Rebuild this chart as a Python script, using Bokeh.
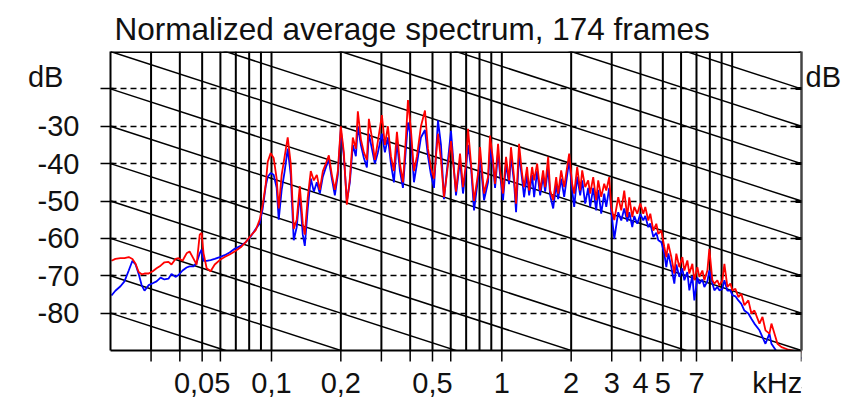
from bokeh.plotting import figure
from bokeh.models import ColumnDataSource, FixedTicker, LinearAxis, Range1d
from bokeh.core.properties import value
from bokeh.embed import file_html
from bokeh.resources import INLINE

TITLE = "Normalized average spectrum, 174 frames"

freq_khz = [
    0.0202, 0.0210, 0.0221, 0.0230, 0.0240, 0.0249, 0.0257, 0.0265, 0.0273, 0.0281,
    0.0293, 0.0305, 0.0317, 0.0330, 0.0343, 0.0357, 0.0368, 0.0383, 0.0395, 0.0411,
    0.0428, 0.0441, 0.0459, 0.0473, 0.0488, 0.0497, 0.0507, 0.0523, 0.0544, 0.0567,
    0.0596, 0.0626, 0.0658, 0.0692, 0.0735, 0.0773, 0.0812, 0.0854, 0.0889, 0.0916,
    0.0944, 0.0963, 0.0992,
    0.1022, 0.1053, 0.1075, 0.1107, 0.1141, 0.1176, 0.1212, 0.1249, 0.1287, 0.1327,
    0.1367, 0.1395, 0.1437, 0.1481, 0.1527, 0.1573, 0.1621, 0.1671, 0.1722, 0.1774,
    0.1828, 0.1884, 0.1941, 0.2000, 0.2061, 0.2124, 0.2189, 0.2255, 0.2324, 0.2371,
    0.2444, 0.2518, 0.2595, 0.2647, 0.2728, 0.2811, 0.2897, 0.3015, 0.3107, 0.3202,
    0.3300, 0.3400, 0.3504, 0.3611, 0.3721, 0.3834, 0.3912, 0.4031, 0.4154, 0.4281,
    0.4455, 0.4638, 0.4779, 0.4925, 0.5075, 0.5282, 0.5443,
    0.5609, 0.6016, 0.6325, 0.6584, 0.6784, 0.6991, 0.7133, 0.7350, 0.7574, 0.7884,
    0.8042, 0.8370, 0.8713, 0.8889, 0.9160, 0.9346, 0.9631, 0.9826, 1.012, 1.043,
    1.075, 1.096, 1.130, 1.153, 1.188, 1.224, 1.249, 1.287, 1.314, 1.354,
    1.381, 1.423, 1.467, 1.511, 1.542, 1.589, 1.621, 1.671, 1.722, 1.756,
    1.810, 1.865, 1.903, 1.961, 2.020, 2.061, 2.124, 2.189, 2.233, 2.301,
    2.371, 2.419, 2.493, 2.569, 2.621, 2.701, 2.783, 2.840, 2.926, 2.985, 3.077,
    3.202, 3.300, 3.400, 3.504, 3.575, 3.684, 3.758, 3.873, 3.991, 4.113,
    4.196, 4.324, 4.411, 4.546, 4.685, 4.779, 4.925, 5.075, 5.177, 5.282,
    5.443, 5.609, 5.722, 5.897, 6.077, 6.200, 6.389, 6.518, 6.716, 6.852,
    7.061, 7.204, 7.424, 7.574, 7.806, 7.962, 8.205, 8.370, 8.626, 8.800,
    9.069, 9.252, 9.534, 9.826, 10.02, 10.33, 10.64, 10.96, 11.30, 11.76,
    12.12, 12.49, 13.14, 13.54, 13.95, 14.52, 14.81, 15.42, 15.73, 16.37,
    17.56, 19.41, 20.0,
]

red_db = [
    -66.0, -65.5, -65.3, -65.3, -65.0, -65.5, -66.8, -69.0, -69.6, -69.4,
    -69.4, -68.8, -68.0, -67.3, -66.4, -66.3, -67.0, -65.5, -65.3, -66.0,
    -64.0, -63.5, -65.5, -67.0, -59.0, -58.5, -64.0, -68.0, -68.8, -67.0,
    -65.8, -65.0, -64.3, -63.5, -62.4, -61.0, -59.3, -57.8, -55.0, -51.0,
    -45.5, -39.5, -37.2,
    -38.5, -44.0, -52.0, -43.0, -38.0, -33.0, -40.0, -57.5, -55.0, -46.0,
    -56.0, -59.0, -49.0, -42.0, -44.5, -43.0, -47.0, -42.0, -40.0, -37.8,
    -43.0, -47.0, -42.0, -30.0, -37.0, -51.0, -44.0, -33.0, -36.0, -26.0,
    -33.5, -37.0, -39.0, -28.0, -33.0, -39.0, -34.0, -27.0, -35.0, -30.0,
    -38.0, -42.0, -31.5, -40.0, -45.0, -33.0, -23.0, -31.0, -42.0, -38.0,
    -30.0, -25.8, -36.0, -41.0, -44.0, -32.0, -39.0,
    -49.0, -34.0, -47.5, -37.3, -46.3, -40.0, -30.7, -40.0, -50.0, -42.7,
    -35.6, -48.0, -43.6, -32.5, -39.1, -45.4, -34.7, -41.8, -48.0, -38.2,
    -44.5, -35.6, -43.6, -50.7, -34.7, -42.7, -46.3, -40.9, -47.2, -40.9,
    -44.5, -40.0, -47.2, -41.8, -46.3, -38.2, -47.2, -49.8, -43.6, -48.0,
    -41.8, -46.3, -42.7, -37.3, -45.4, -48.0, -40.9, -47.2, -41.8, -46.3,
    -44.5, -48.0, -43.6, -49.8, -44.5, -48.9, -45.4, -47.2, -43.6, -51.6, -55.1,
    -49.0, -52.5, -47.2, -54.3, -49.0, -54.3, -51.6, -53.4, -50.7, -53.4,
    -51.6, -55.2, -53.4, -57.9, -56.1, -58.8, -57.9, -62.3, -65.0, -61.4,
    -65.0, -69.4, -64.1, -67.7, -65.0, -68.6, -65.9, -69.4, -66.8, -71.2,
    -67.7, -70.3, -68.6, -71.2, -68.6, -62.8, -71.2, -72.1, -71.2, -72.6,
    -71.2, -66.8, -73.0, -72.1, -73.9, -73.5, -75.7, -74.8, -77.9, -76.6,
    -80.1, -79.3, -82.8, -81.0, -84.6, -85.5, -82.8, -86.4, -88.2, -89.1,
    -89.8, -90.4, -90.5,
]

blue_db = [
    -75.3, -74.0, -72.8, -71.5, -68.6, -66.0, -67.0, -69.5, -72.5, -74.0,
    -72.5, -72.0, -71.5, -70.5, -71.0, -70.8, -69.5, -70.3, -69.8, -68.6,
    -67.8, -67.5, -67.5, -66.5, -64.0, -63.0, -66.0, -66.0, -65.8, -65.5,
    -65.0, -64.5, -63.8, -62.8, -62.0, -61.0, -59.5, -57.5, -56.0, -52.0,
    -46.0, -43.5, -42.5,
    -43.0, -46.5, -55.0, -47.0, -42.0, -36.0, -43.0, -60.5, -57.0, -48.0,
    -59.0, -62.0, -52.0, -44.0, -47.5, -45.0, -48.0, -43.5, -41.0, -39.0,
    -44.0, -48.5, -43.0, -31.0, -38.0, -50.0, -45.0, -35.0, -38.0, -30.0,
    -35.0, -38.5, -41.0, -32.0, -36.0, -40.0, -37.0, -32.0, -37.0, -33.0,
    -40.0, -45.0, -34.0, -42.0, -46.5, -36.0, -29.0, -33.0, -45.0, -40.0,
    -33.0, -31.0, -38.0, -43.0, -46.5, -28.4, -35.0,
    -49.5, -31.2, -48.5, -39.0, -48.0, -41.0, -35.0, -41.0, -52.5, -44.0,
    -38.0, -49.8, -45.0, -36.0, -40.5, -46.5, -37.0, -43.0, -49.8, -40.0,
    -45.5, -38.0, -45.0, -53.0, -37.5, -44.0, -49.0, -43.0, -48.5, -43.0,
    -49.0, -42.0, -48.5, -43.5, -47.5, -41.0, -48.5, -52.0, -45.5, -49.5,
    -44.0, -48.9, -45.0, -39.1, -47.0, -51.6, -43.5, -48.5, -44.5, -50.7,
    -46.5, -51.6, -46.5, -52.5, -47.0, -53.4, -48.0, -51.6, -46.5, -52.5, -60.1,
    -53.0, -55.2, -52.0, -55.5, -53.0, -57.0, -54.0, -56.1, -53.5, -55.2,
    -54.0, -57.0, -56.0, -59.6, -58.5, -60.5, -61.0, -64.1, -67.7, -64.0,
    -67.7, -72.1, -67.0, -70.3, -68.0, -71.2, -69.0, -73.9, -70.0, -76.6,
    -70.5, -72.1, -71.0, -73.0, -71.5, -68.6, -72.0, -73.9, -73.0, -73.9,
    -73.5, -71.2, -74.0, -73.9, -75.2, -75.5, -76.6, -77.5, -79.3, -80.1,
    -81.5, -82.8, -84.6, -86.4, -88.2, -85.5, -88.2, -89.8, -90.8, -91.7,
    -91.7, -92.0, -92.0,
]

# x axis (kHz, log)
x_min_khz, x_max_khz = 0.02, 20.0
x_label_vals = [0.05, 0.1, 0.2, 0.5, 1, 2, 3, 4, 5, 7, 15.7]
x_label_text = ["0,05", "0,1", "0,2", "0,5", "1", "2", "3", "4", "5", "7", "kHz"]
x_tickmark_vals = [0.03, 0.04, 0.05, 0.06, 0.1, 0.2, 0.3, 0.4, 0.5, 0.6, 1, 2, 3, 4, 5, 6, 7, 10, 20]
grid_khz = [0.03, 0.04, 0.05, 0.06, 0.07, 0.08, 0.09, 0.1,
            0.2, 0.3, 0.4, 0.5, 0.6, 0.7, 0.8, 0.9, 1,
            2, 3, 4, 5, 6, 7, 8, 9, 10]

# y axis (dB)
y_min_db, y_max_db = -90, -10
y_tickmark_vals = [-80, -70, -60, -50, -40, -30, -20]
y_label_vals = [-80, -70, -60, -50, -40, -30, -16.8]
y_label_text = ["-80", "-70", "-60", "-50", "-40", "-30", "dB\u00a0\u00a0"]
unit_db = "dB"

# -6 dB/octave reference lines, level reached at 20 kHz
ref_level_db = [-150, -140, -130, -120, -110, -100, -90, -80, -70, -60, -50, -40, -30, -20, -10]
ref_slope_db_per_decade = -20
ref_decades = 3

FONT = "Liberation Sans"
TXT = "#111111"

# layout (pixels)
W, H = 846, 397
FRAME_TOP, AXIS_Y = 51, 350          # plot box top / bottom axis line
LEFT, RIGHT = 110, 801
TICK_LEN = 11
LABEL_CENTER = 32                    # label centre below the bottom axis line

px_per_db = (AXIS_Y - FRAME_TOP) / (y_max_db - y_min_db)
y_frame_bottom = y_min_db - (H - AXIS_Y) / px_per_db
tick_end_db = y_min_db - TICK_LEN / px_per_db
label_db = y_min_db - LABEL_CENTER / px_per_db

p = figure(width=W, height=H, x_axis_type="log", x_axis_location=None,
           x_range=Range1d(x_min_khz, x_max_khz), y_range=Range1d(y_frame_bottom, y_max_db),
           output_backend="svg", toolbar_location=None,
           min_border_left=LEFT, min_border_right=W - RIGHT,
           min_border_top=FRAME_TOP, min_border_bottom=0)

p.title.text = TITLE
p.title.text_font = FONT
p.title.text_font_style = "normal"
p.title.text_font_size = "31.5px"
p.title.text_color = TXT
p.title.align = "left"
p.title.offset = 4
p.title.standoff = 10

p.background_fill_color = "white"
p.border_fill_color = "white"
p.outline_line_color = None
p.xgrid.visible = False

# horizontal dashed grid
p.ygrid.ticker = FixedTicker(ticks=y_tickmark_vals)
p.ygrid.grid_line_color = "black"
p.ygrid.grid_line_width = 1.5
p.ygrid.grid_line_dash = "6 4"

# left axis
ya = p.yaxis[0]
ya.bounds = (y_min_db, y_max_db)
ya.ticker = FixedTicker(ticks=y_label_vals, minor_ticks=y_tickmark_vals)
ya.major_label_overrides = dict(zip(y_label_vals, y_label_text))
ya.major_tick_out = 0
ya.major_tick_in = 0
ya.minor_tick_out = 10
ya.minor_tick_in = 3
ya.minor_tick_line_color = "black"
ya.minor_tick_line_width = 1.5
ya.axis_line_width = 2
ya.major_label_standoff = 21
ya.major_label_text_font = FONT
ya.major_label_text_font_size = "29px"
ya.major_label_text_color = TXT

# right axis
ra = LinearAxis(bounds=(y_min_db, y_max_db),
                ticker=FixedTicker(ticks=[y_label_vals[-1]], minor_ticks=y_tickmark_vals),
                major_label_overrides={y_label_vals[-1]: unit_db},
                major_tick_in=0, major_tick_out=0,
                minor_tick_in=6, minor_tick_out=0, minor_tick_line_width=3,
                minor_tick_line_color="black",
                major_label_standoff=4,
                major_label_text_font=FONT, major_label_text_font_size="29px",
                major_label_text_color=TXT,
                axis_line_color="#444444", axis_line_width=2.5)
p.add_layout(ra, "right")

# vertical grid lines inside the plot box
p.segment(x0=grid_khz, y0=[y_min_db] * len(grid_khz), x1=grid_khz, y1=[y_max_db] * len(grid_khz),
          line_color="black", line_width=2)

# reference lines (-6 dB/octave)
ref_src = ColumnDataSource(dict(
    x0=[x_min_khz] * len(ref_level_db),
    y0=[L - ref_slope_db_per_decade * ref_decades for L in ref_level_db],
    x1=[x_max_khz] * len(ref_level_db),
    y1=ref_level_db,
))
p.segment("x0", "y0", "x1", "y1", source=ref_src, line_color="black", line_width=1.5)

# spectra
src = ColumnDataSource(dict(f=freq_khz, red=red_db, blue=blue_db))
p.line("f", "blue", source=src, line_color="#0000ff", line_width=1.8)
p.line("f", "red", source=src, line_color="#ff0000", line_width=1.8)

# mask below the plot box (area of the bottom axis)
p.quad(left=[x_min_khz], right=[x_max_khz], bottom=[y_frame_bottom], top=[y_min_db],
       fill_color="white", line_color=None)

# top border and bottom axis line
p.segment(x0=[x_min_khz, x_min_khz], y0=[y_max_db, y_min_db], x1=[x_max_khz, x_max_khz],
          y1=[y_max_db, y_min_db], line_color="black", line_width=[3, 2])

# bottom tick marks
p.segment(x0=x_tickmark_vals, y0=[y_min_db] * len(x_tickmark_vals),
          x1=x_tickmark_vals, y1=[tick_end_db] * len(x_tickmark_vals),
          line_color="black", line_width=1.5)

# bottom tick labels
p.text(x=x_label_vals, y=[label_db] * len(x_label_vals), text=x_label_text,
       text_font=value(FONT), text_font_size=value("29px"), text_color=TXT,
       text_align="center", text_baseline="middle")

open("out.html", "w").write(file_html(p, INLINE))
